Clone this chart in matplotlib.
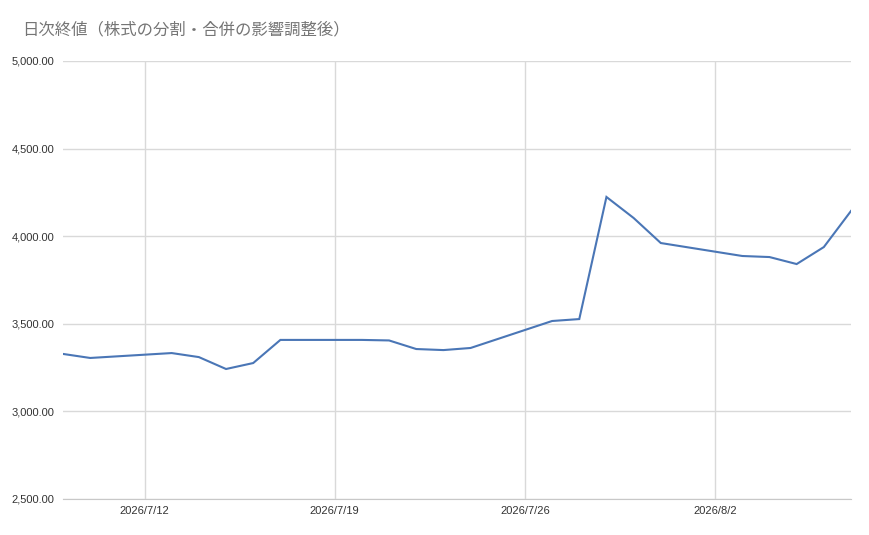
import pandas as pd
import matplotlib.pyplot as plt
import matplotlib.dates as mdates
from matplotlib.ticker import FuncFormatter, MultipleLocator

plt.rcParams['font.family'] = ['Liberation Sans', 'Noto Sans CJK JP', 'DejaVu Sans']

# 日次終値 (取引日のみ)
fechas = ['2026-07-09', '2026-07-10', '2026-07-13', '2026-07-14', '2026-07-15',
          '2026-07-16', '2026-07-17', '2026-07-20', '2026-07-21', '2026-07-22',
          '2026-07-23', '2026-07-24', '2026-07-27', '2026-07-28', '2026-07-29',
          '2026-07-30', '2026-07-31', '2026-08-03', '2026-08-04', '2026-08-05',
          '2026-08-06', '2026-08-07']
cierres = [3328, 3305, 3333, 3310, 3242,
           3276, 3408, 3408, 3405, 3356,
           3350, 3362, 3516, 3527, 4224,
           4104, 3961, 3887, 3881, 3841,
           3938, 4144]
marcas_x = ['2026-07-12', '2026-07-19', '2026-07-26', '2026-08-02']

titulo = '日次終値（株式の分割・合併の影響調整後）'

x = pd.to_datetime(fechas)

fig = plt.figure(figsize=(8.7, 5.35), dpi=100)
ax = fig.add_axes([63 / 870, 1 - 499 / 535, (851 - 63) / 870, (499 - 61) / 535])

ax.plot(x, cierres, color='#4a76b6', lw=1.5, solid_joinstyle='miter')

ax.set_xlim(pd.Timestamp('2026-07-09'), pd.Timestamp('2026-08-07'))
ax.set_ylim(2500, 5000)

ax.yaxis.set_major_locator(MultipleLocator(500))
ax.yaxis.set_major_formatter(FuncFormatter(lambda v, p: f'{v:,.2f}'))
ax.set_xticks(pd.to_datetime(marcas_x))
ax.xaxis.set_major_formatter(FuncFormatter(
    lambda v, p: f'{mdates.num2date(v).year}/{mdates.num2date(v).month}/{mdates.num2date(v).day}'))

ax.grid(True, color='#d9d9d9', lw=1)
ax.set_axisbelow(True)
for s in ['top', 'right', 'left']:
    ax.spines[s].set_visible(False)
ax.spines['bottom'].set_color('#c8c8c8')
ax.tick_params(length=0, labelsize=8, colors='#333333')
ax.tick_params(axis='y', pad=6)
ax.tick_params(axis='x', pad=5)

fig.text(22 / 870, 1 - 30 / 535, titulo, fontsize=11.8, color='#757575',
         va='center', ha='left')

fig.savefig('out.png')
